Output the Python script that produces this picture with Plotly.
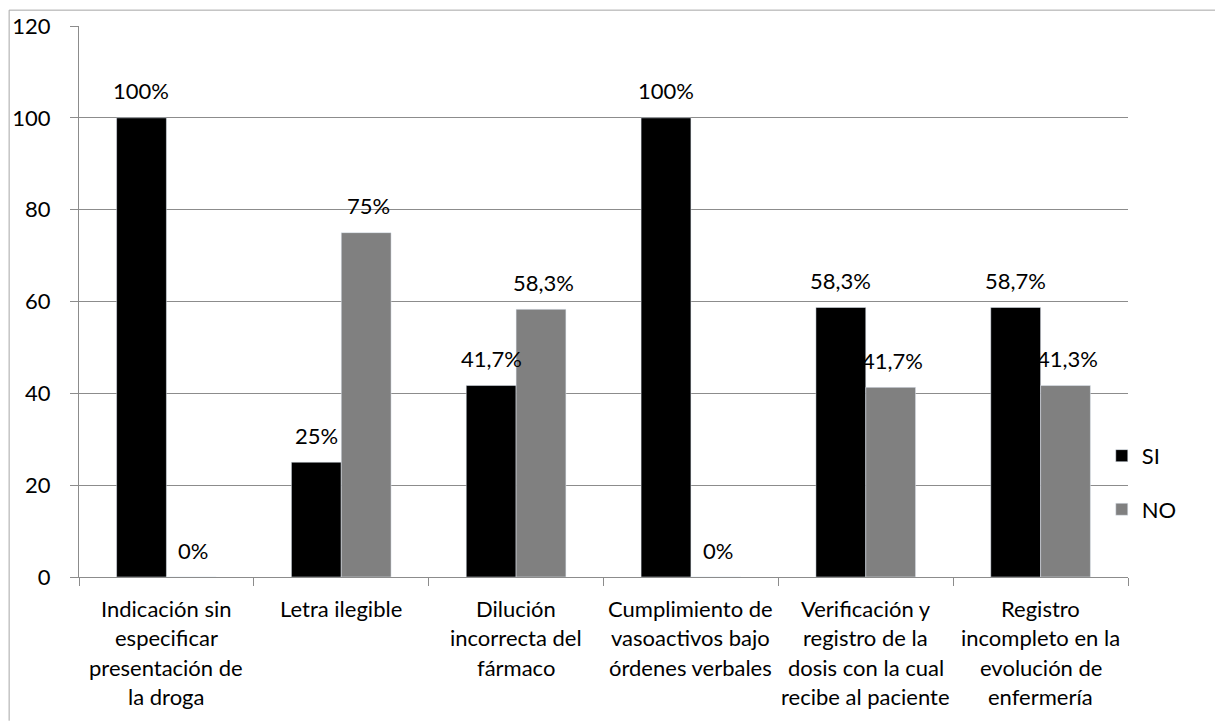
import plotly.graph_objects as go

categories = [
    "Indicación sin especificar presentación de la droga",
    "Letra ilegible",
    "Dilución incorrecta del fármaco",
    "Cumplimiento de vasoactivos bajo órdenes verbales",
    "Verificación y registro de la dosis con la cual recibe al paciente",
    "Registro incompleto en la evolución de enfermería",
]
category_lines = [
    ["Indicación sin", "especificar", "presentación de", "la droga"],
    ["Letra ilegible"],
    ["Dilución", "incorrecta del", "fármaco"],
    ["Cumplimiento de", "vasoactivos bajo", "órdenes verbales"],
    ["Verificación y", "registro de la", "dosis con la cual", "recibe al paciente"],
    ["Registro", "incompleto en la", "evolución de", "enfermería"],
]
si_values = [100, 25, 41.7, 100, 58.7, 58.7]
no_values = [0, 75, 58.3, 0, 41.3, 41.7]
si_labels = ["100%", "25%", "41,7%", "100%", "58,3%", "58,7%"]
no_labels = ["0%", "75%", "58,3%", "0%", "41,7%", "41,3%"]
y_ticks = [0, 20, 40, 60, 80, 100, 120]

FONT = "Lato"
FS = 22
W, H = 1215, 721
L, R, T, B = 77, 87, 21, 144
PW, PH = W - L - R, H - T - B

def py(pix):
    return (H - B - pix) / PH

def px(pix):
    return (pix - L) / PW

fig = go.Figure()
fig.add_trace(go.Bar(x=categories, y=si_values, name="SI", marker_color="#000000",
                     legendgroup="si"))
fig.add_trace(go.Bar(x=categories, y=no_values, name="NO", marker_color="#808080",
                     legendgroup="no"))

annotations = []
for cat, v, t in zip(categories, si_values, si_labels):
    annotations.append(dict(x=cat, y=v, text=t, showarrow=False, xshift=-25, yshift=27,
                            yanchor="middle", font=dict(size=FS, color="#000", family=FONT)))
for cat, v, t in zip(categories, no_values, no_labels):
    annotations.append(dict(x=cat, y=v, text=t, showarrow=False, xshift=27, yshift=27,
                            yanchor="middle", font=dict(size=FS, color="#000", family=FONT)))
for cat, lines in zip(categories, category_lines):
    for i, line in enumerate(lines):
        annotations.append(dict(x=cat, xref="x", y=py(609 + 29.5 * i), yref="paper",
                                text=line, showarrow=False, yanchor="middle",
                                font=dict(size=FS, color="#000", family=FONT)))

fig.update_layout(
    width=W, height=H,
    margin=dict(l=L, r=R, t=T, b=B, pad=0),
    paper_bgcolor="white", plot_bgcolor="white",
    font=dict(family=FONT, size=FS, color="#000"),
    barmode="group", bargap=0.43, bargroupgap=0,
    legend=dict(x=0.975, xanchor="left", y=py(482), yanchor="middle",
                traceorder="grouped", tracegroupgap=22,
                font=dict(size=FS, family=FONT, color="#000"),
                bgcolor="rgba(0,0,0,0)"),
    annotations=annotations,
    shapes=[
        dict(type="line", xref="paper", yref="paper", x0=px(7), x1=px(1216),
             y0=py(5), y1=py(5), line=dict(color="#a6a6a6", width=1)),
        dict(type="line", xref="paper", yref="paper", x0=px(7), x1=px(7),
             y0=py(5), y1=py(722), line=dict(color="#a6a6a6", width=1)),
    ],
)
fig.update_yaxes(range=[0, 120], tickvals=y_ticks, showgrid=True, gridcolor="#8c8c8c",
                 gridwidth=1, showline=True, linecolor="#8c8c8c", linewidth=1,
                 ticks="outside", ticklen=8, tickcolor="#8c8c8c",
                 ticklabelstandoff=15, tickfont=dict(size=FS, family=FONT, color="#000"),
                 zeroline=False)
fig.update_xaxes(showticklabels=False, showline=True, linecolor="#8c8c8c", linewidth=1,
                 ticks="outside", ticklen=8, tickcolor="#8c8c8c", tickson="boundaries",
                 showgrid=False)

fig.write_html("out.html", config={"displayModeBar": False},
               post_script="document.body.style.margin='0';")
